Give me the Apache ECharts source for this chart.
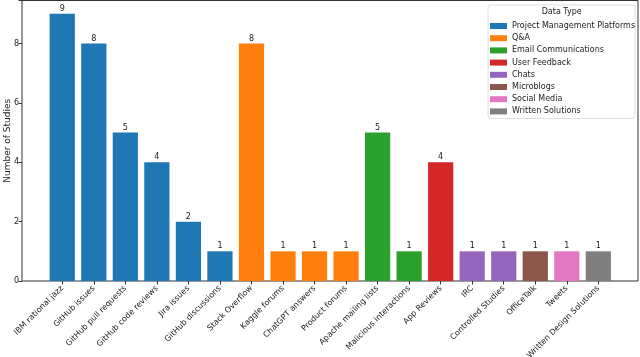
<!DOCTYPE html>
<html>
<head>
<meta charset="utf-8">
<script src="https://cdn.jsdelivr.net/npm/echarts@6/dist/echarts.min.js"></script>
<style>
  html, body { margin: 0; padding: 0; background: #fff; }
  #chart { width: 640px; height: 357px; }
</style>
</head>
<body>
<div id="chart"></div>
<script>
var categories = ['IBM rational jazz', 'GitHub issues', 'GitHub pull requests', 'GitHub code reviews',
    'Jira issues', 'GitHub discussions', 'Stack Overflow', 'Kaggle forums', 'ChatGPT answers',
    'Product forums', 'Apache mailing lists', 'Malicious interactions', 'App Reviews', 'IRC',
    'Controlled Studies', 'OfficeTalk', 'Tweets', 'Written Design Solutions'];
var counts = [9, 8, 5, 4, 2, 1, 8, 1, 1, 1, 5, 1, 4, 1, 1, 1, 1, 1];
var dataTypes = ['Project Management Platforms', 'Project Management Platforms', 'Project Management Platforms',
    'Project Management Platforms', 'Project Management Platforms', 'Project Management Platforms',
    'Q&A', 'Q&A', 'Q&A', 'Q&A', 'Email Communications', 'Email Communications', 'User Feedback',
    'Chats', 'Chats', 'Microblogs', 'Social Media', 'Written Solutions'];
var groups = ['Project Management Platforms', 'Q&A', 'Email Communications', 'User Feedback',
    'Chats', 'Microblogs', 'Social Media', 'Written Solutions'];
var colors = ['#1f77b4', '#ff7f0e', '#2ca02c', '#d62728', '#9467bd', '#8c564b', '#e377c2', '#7f7f7f'];
var yTicks = [0, 2, 4, 6, 8];

var font = 'DejaVu Sans';
var chart = echarts.init(document.getElementById('chart'));

// one series per data type, stacked so each category has a single centred bar
var series = groups.map(function (g, i) {
    return {
        name: g,
        type: 'bar',
        xAxisIndex: 1,
        yAxisIndex: 1,
        stack: 'all',
        barWidth: '80%',
        itemStyle: { color: colors[i] },
        label: {
            show: true,
            position: 'top',
            distance: 1,
            fontSize: 8,
            fontFamily: font,
            color: '#222'
        },
        data: counts.map(function (v, k) { return dataTypes[k] === g ? v : '-'; })
    };
});

var option = {
    animation: false,
    textStyle: { fontFamily: font },
    color: colors,
    grid: [
        // frame (matplotlib spines)
        { left: 22, right: 2, top: 0.5, bottom: 76, show: true, borderColor: '#333', borderWidth: 1,
          outerBoundsMode: 'none' },
        // data area
        { left: 46.5, right: 25.9, top: 0.5, bottom: 76, outerBoundsMode: 'none' }
    ],
    xAxis: [
        { gridIndex: 0, type: 'value', show: false },
        {
            gridIndex: 1,
            type: 'category',
            data: categories,
            axisLine: { show: false },
            axisTick: { show: true, alignWithLabel: true, length: 3.5, lineStyle: { color: '#333' } },
            axisLabel: { rotate: 45, fontSize: 8, fontFamily: font, color: '#222', margin: 6, interval: 0 }
        }
    ],
    yAxis: [
        { gridIndex: 0, type: 'value', show: false },
        {
            gridIndex: 1,
            type: 'value',
            min: 0,
            max: 9.45,
            interval: 2,
            offset: 24.5,
            name: 'Number of Studies',
            nameLocation: 'middle',
            nameGap: 10,
            nameMoveOverlap: false,
            nameTextStyle: { fontSize: 9, fontFamily: font, color: '#222' },
            axisLine: { show: false },
            axisTick: { show: true, length: 3.5, lineStyle: { color: '#333' } },
            axisLabel: {
                fontSize: 8, fontFamily: font, color: '#222', margin: 3,
                formatter: function (v) { return yTicks.indexOf(v) >= 0 ? String(v) : ''; }
            },
            splitLine: { show: false }
        }
    ],
    legend: {
        orient: 'vertical',
        left: 488,
        top: 5,
        padding: [16, 0, 2, 2],
        itemWidth: 17,
        itemHeight: 6,
        itemGap: 2.2,
        icon: 'rect',
        backgroundColor: '#fff',
        borderColor: '#ddd',
        borderWidth: 1,
        borderRadius: 3,
        textStyle: { fontSize: 8, fontFamily: font, color: '#222', lineHeight: 10 },
        data: groups
    },
    graphic: [{
        type: 'text',
        z: 100,
        style: {
            text: 'Data Type',
            x: 561.7,
            y: 11.5,
            align: 'center',
            verticalAlign: 'middle',
            font: '8px "DejaVu Sans"',
            fill: '#222'
        }
    }],
    series: series
};

chart.setOption(option);
</script>
</body>
</html>
